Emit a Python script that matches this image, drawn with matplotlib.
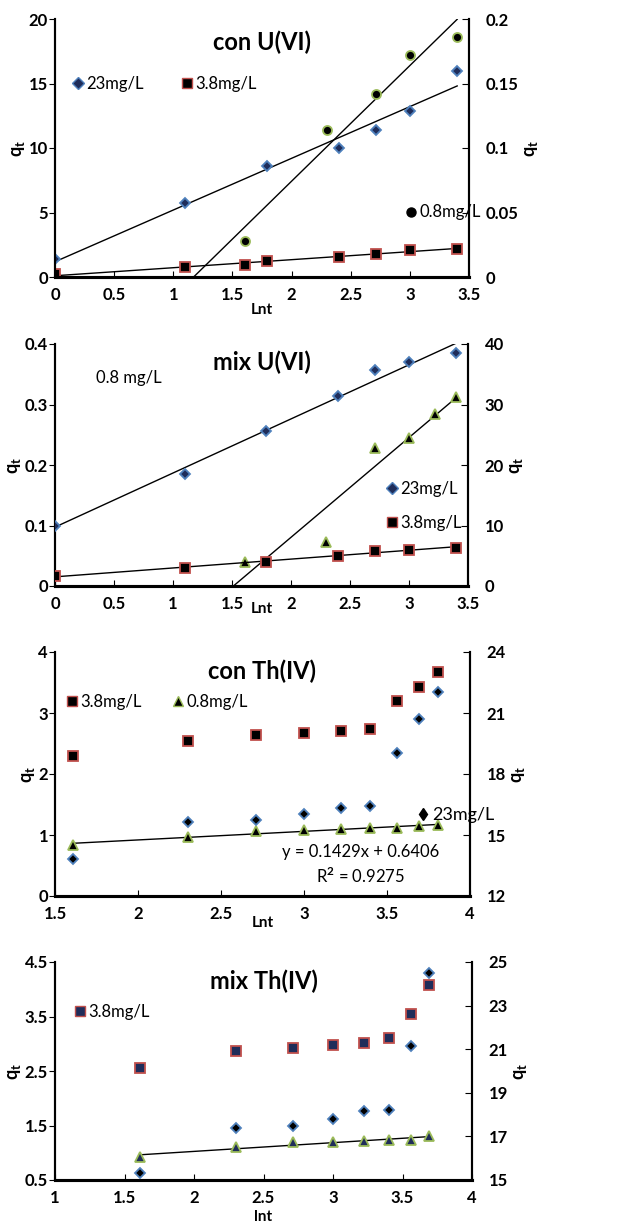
import numpy as np
import matplotlib
matplotlib.use("Agg")
import matplotlib.pyplot as plt
from matplotlib.lines import Line2D

plt.rcParams['font.family'] = ['Lato', 'DejaVu Sans']
plt.rcParams['font.weight'] = 'bold'
plt.rcParams['axes.labelweight'] = 'bold'
plt.rcParams['mathtext.fontset'] = 'custom'
plt.rcParams['mathtext.rm'] = 'Lato'
plt.rcParams['mathtext.bf'] = 'Lato:bold'

# ---- con U(VI) ----
cu_x23 = [0, 1.1, 1.79, 2.4, 2.71, 3.0, 3.4]
cu_y23 = [1.4, 5.7, 8.6, 10.0, 11.4, 12.9, 16.0]
cu_x38 = [0, 1.1, 1.61, 1.79, 2.4, 2.71, 3.0, 3.4]
cu_y38 = [0.2, 0.75, 0.9, 1.25, 1.55, 1.8, 2.1, 2.2]
cu_x08 = [1.61, 2.3, 2.71, 3.0, 3.4]
cu_y08 = [0.028, 0.114, 0.142, 0.172, 0.186]

# ---- mix U(VI) ----
mu_x23 = [0, 1.1, 1.79, 2.4, 2.71, 3.0, 3.4]
mu_y23 = [10.0, 18.5, 25.7, 31.4, 35.7, 37.1, 38.5]
mu_x38 = [0, 1.1, 1.79, 2.4, 2.71, 3.0, 3.4]
mu_y38 = [1.6, 3.0, 4.0, 5.0, 5.8, 6.0, 6.3]
mu_x08 = [1.61, 2.3, 2.71, 3.0, 3.22, 3.4]
mu_y08 = [0.040, 0.072, 0.228, 0.244, 0.285, 0.313]

# ---- con Th(IV) ----
ct_x = [1.61, 2.3, 2.71, 3.0, 3.22, 3.4, 3.56, 3.69, 3.81]
ct_y38 = [2.3, 2.54, 2.64, 2.67, 2.7, 2.74, 3.2, 3.42, 3.67]
ct_y08 = [0.83, 0.96, 1.07, 1.09, 1.1, 1.11, 1.12, 1.14, 1.16]
ct_y23 = [13.8, 15.66, 15.75, 16.02, 16.35, 16.41, 19.02, 20.7, 22.02]

# ---- mix Th(IV) ----
mt_x = [1.61, 2.3, 2.71, 3.0, 3.22, 3.4, 3.56, 3.69]
mt_y38 = [2.55, 2.87, 2.93, 2.97, 3.02, 3.1, 3.55, 4.08]
mt_y08 = [0.92, 1.1, 1.19, 1.2, 1.22, 1.23, 1.24, 1.3]
mt_y23 = [15.3, 17.4, 17.5, 17.8, 18.18, 18.2, 21.13, 24.5]

BLUE = '#4F81BD'
RED = '#C0504D'
GREEN = '#9BBB59'
NAVY = '#1F2D5A'

W, H = 622, 1228
fig = plt.figure(figsize=(W / 100, H / 100), dpi=100)


def make_axes(x0, x1, y0, y1):
    ax = fig.add_axes([x0 / W, 1 - y1 / H, (x1 - x0) / W, (y1 - y0) / H])
    ax2 = ax.twinx()
    for a in (ax, ax2):
        a.spines['top'].set_visible(False)
        a.spines['left'].set_linewidth(1.5)
        a.spines['right'].set_linewidth(1.5)
        a.spines['bottom'].set_linewidth(2.2)
        a.tick_params(labelsize=12)
    ax.tick_params(axis='x', direction='in', length=4, pad=7)
    ax.tick_params(axis='y', direction='out', length=4, pad=1)
    ax2.tick_params(axis='y', direction='in', length=5, pad=12)
    return ax, ax2


def labels(ax, ax2, title, xlab, xpad, ty):
    ax.set_xlabel(xlab, fontsize=11, labelpad=xpad)
    ax.set_ylabel(r'q$_\mathbf{t}$', fontsize=13, labelpad=1)
    ax2.set_ylabel(r'q$_\mathbf{t}$', fontsize=13, labelpad=3)
    ax.text(0.5, ty, title, transform=ax.transAxes, ha='center', va='center',
            fontsize=17)


def sc(a, x, y, marker, face, edge, size=6.5):
    a.plot(x, y, linestyle='none', marker=marker, markerfacecolor=face,
           markeredgecolor=edge, markeredgewidth=1.3, markersize=size, zorder=5)


def trend(a, x, y, x_from=None):
    k, b = np.polyfit(x, y, 1)
    xa = min(x) if x_from is None else x_from
    xs = np.array([xa, max(x)])
    a.plot(xs, k * xs + b, color='black', lw=1.0, zorder=3)


def handle(marker, face, edge):
    return Line2D([], [], linestyle='none', marker=marker, markerfacecolor=face,
                  markeredgecolor=edge, markeredgewidth=1.0, markersize=6.5)


leg_kw = dict(frameon=False, prop={'size': 12, 'weight': 'normal'},
              handletextpad=0.1, handlelength=0.8, borderaxespad=0.0,
              borderpad=0.0)

# ===== panel 1: con U(VI) =====
ax, ax2 = make_axes(55, 469, 19, 277)
ax.set_xlim(0, 3.5)
ax.set_ylim(0, 20)
ax2.set_ylim(0, 0.2)
ax.set_xticks(np.arange(0, 3.51, 0.5))
ax.set_xticklabels(['0', '0.5', '1', '1.5', '2', '2.5', '3', '3.5'])
ax.set_yticks([0, 5, 10, 15, 20])
ax2.set_yticks([0, 0.05, 0.1, 0.15, 0.2])
ax2.set_yticklabels(['0', '0.05', '0.1', '0.15', '0.2'])
trend(ax, cu_x23, cu_y23)
trend(ax, cu_x38, cu_y38)
k, b = np.polyfit(cu_x08, cu_y08, 1)
trend(ax2, cu_x08, cu_y08, x_from=-b / k)
sc(ax, cu_x23, cu_y23, 'D', NAVY, BLUE, 5.5)
sc(ax, cu_x38, cu_y38, 's', 'black', RED)
sc(ax2, cu_x08, cu_y08, 'o', 'black', GREEN)
labels(ax, ax2, 'con U(VI)', 'Lnt', 0, 0.91)
ax.legend([handle('D', NAVY, BLUE), handle('s', 'black', RED)],
          ['23mg/L', '3.8mg/L'], loc='center left', bbox_to_anchor=(0.04, 0.75),
          ncol=2, columnspacing=2.2, **leg_kw)
ax2.legend([handle('o', 'black', 'black')], ['0.8mg/L'], loc='center left',
           bbox_to_anchor=(0.845, 0.25), **leg_kw)

# ===== panel 2: mix U(VI) =====
ax, ax2 = make_axes(55, 468, 344, 586)
ax.set_xlim(0, 3.5)
ax.set_ylim(0, 0.4)
ax2.set_ylim(0, 40)
ax.set_xticks(np.arange(0, 3.51, 0.5))
ax.set_xticklabels(['0', '0.5', '1', '1.5', '2', '2.5', '3', '3.5'])
ax.set_yticks([0, 0.1, 0.2, 0.3, 0.4])
ax.set_yticklabels(['0', '0.1', '0.2', '0.3', '0.4'])
ax2.set_yticks([0, 10, 20, 30, 40])
trend(ax2, mu_x23, mu_y23)
trend(ax2, mu_x38, mu_y38)
k, b = np.polyfit(mu_x08, mu_y08, 1)
trend(ax, mu_x08, mu_y08, x_from=-b / k)
sc(ax2, mu_x23, mu_y23, 'D', NAVY, BLUE, 5.5)
sc(ax2, mu_x38, mu_y38, 's', 'black', RED)
sc(ax, mu_x08, mu_y08, '^', 'black', GREEN)
labels(ax, ax2, 'mix U(VI)', 'Lnt', -7, 0.925)
ax.text(0.1, 0.86, '0.8 mg/L', transform=ax.transAxes, fontsize=12,
        fontweight='normal', ha='left', va='center')
ax2.legend([handle('D', NAVY, BLUE), handle('s', 'black', RED)],
           ['23mg/L', '3.8mg/L'], loc='center left', bbox_to_anchor=(0.8, 0.33),
           labelspacing=1.1, **leg_kw)

# ===== panel 3: con Th(IV) =====
ax, ax2 = make_axes(55, 470, 652, 896)
ax.set_xlim(1.5, 4)
ax.set_ylim(0, 4)
ax2.set_ylim(12, 24)
ax.set_xticks([1.5, 2, 2.5, 3, 3.5, 4])
ax.set_xticklabels(['1.5', '2', '2.5', '3', '3.5', '4'])
ax.set_yticks([0, 1, 2, 3, 4])
ax2.set_yticks([12, 15, 18, 21, 24])
trend(ax, ct_x, ct_y08)
sc(ax, ct_x, ct_y38, 's', 'black', RED)
sc(ax, ct_x, ct_y08, '^', 'black', GREEN)
sc(ax2, ct_x, ct_y23, 'D', 'black', BLUE, 5.5)
labels(ax, ax2, 'con Th(IV)', 'Lnt', -4, 0.92)
ax.legend([handle('s', 'black', RED), handle('^', 'black', GREEN)],
          ['3.8mg/L', '0.8mg/L'], loc='center left', bbox_to_anchor=(0.025, 0.795),
          ncol=2, columnspacing=1.8, **leg_kw)
ax2.legend([handle('d', 'black', 'black')], ['23mg/L'], loc='center left',
           bbox_to_anchor=(0.87, 0.33), frameon=False,
           prop={'size': 13, 'weight': 'normal'},
           handletextpad=0.1, handlelength=0.8, borderaxespad=0.0, borderpad=0.0)
ax.text(3.34, 0.72, 'y = 0.1429x + 0.6406', fontsize=12, fontweight='normal',
        ha='center', va='center')
ax.text(3.34, 0.33, r'R$^\mathrm{2}$ = 0.9275', fontsize=12, fontweight='normal',
        ha='center', va='center')

# ===== panel 4: mix Th(IV) =====
ax, ax2 = make_axes(55, 472, 962, 1180)
ax.set_xlim(1, 4)
ax.set_ylim(0.5, 4.5)
ax2.set_ylim(15, 25)
ax.set_xticks([1, 1.5, 2, 2.5, 3, 3.5, 4])
ax.set_xticklabels(['1', '1.5', '2', '2.5', '3', '3.5', '4'])
ax.set_yticks([0.5, 1.5, 2.5, 3.5, 4.5])
ax2.set_yticks([15, 17, 19, 21, 23, 25])
trend(ax, mt_x, mt_y08)
sc(ax, mt_x, mt_y38, 's', NAVY, RED)
sc(ax, mt_x, mt_y08, '^', NAVY, GREEN)
sc(ax2, mt_x, mt_y23, 'D', 'black', BLUE, 5.5)
labels(ax, ax2, 'mix Th(IV)', 'lnt', 3, 0.91)
ax.legend([handle('s', NAVY, RED)], ['3.8mg/L'], loc='center left',
          bbox_to_anchor=(0.045, 0.77), **leg_kw)

fig.savefig('out.png', dpi=100)
